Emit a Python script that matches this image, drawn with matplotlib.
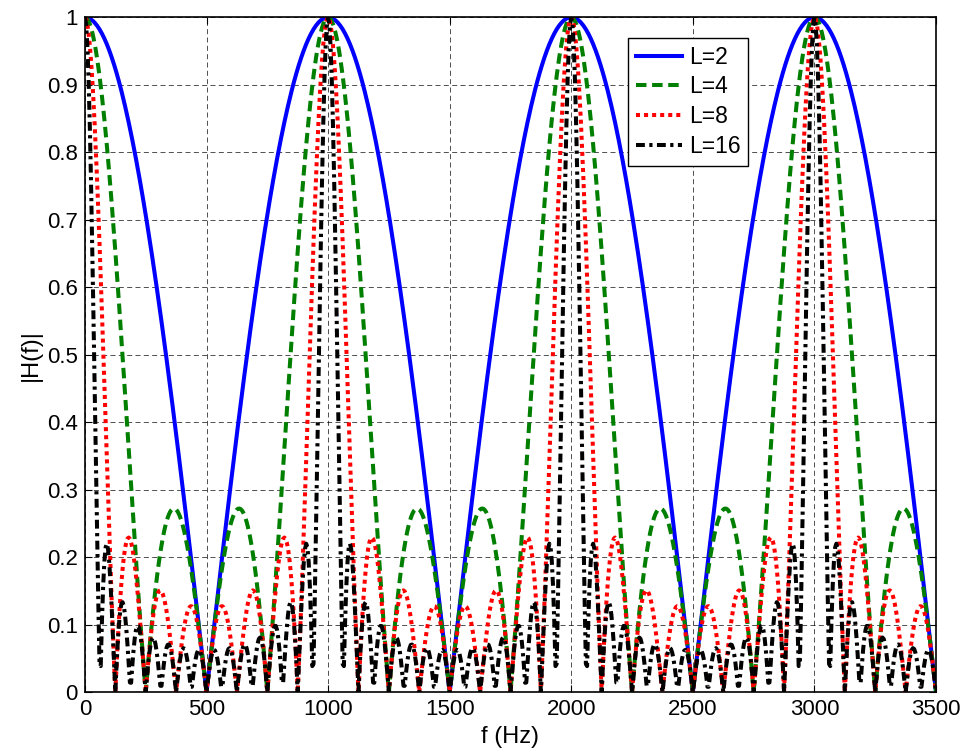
import numpy as np
import matplotlib.pyplot as plt

plt.rcParams['font.family'] = ['Liberation Sans', 'DejaVu Sans']

# moving average filter lengths and sampling rate
filter_lengths = [2, 4, 8, 16]
fs = 1000.0
f_max = 3500
line_colors = ['#0000ff', '#007f00', '#ff0000', '#000000']
line_styles = ['-', (0, (2.6, 1.4)), (0, (1, 1)), (0, (2.2, 1.1, 0.8, 1.1))]

f = np.linspace(0, f_max, 701)

fig = plt.figure(figsize=(9.65, 7.54), dpi=100)
ax = fig.add_axes([0.088, 0.082, 0.882, 0.895])

for L, c, ls in zip(filter_lengths, line_colors, line_styles):
    # frequency response of an L-tap averaging filter
    h = np.ones(L) / L
    n = np.arange(L)
    H = np.abs(np.exp(-2j * np.pi * np.outer(f, n) / fs) @ h)
    ax.plot(f, H, color=c, linestyle=ls, linewidth=2.9, label=f'L={L}')

ax.set_xlim(0, 3500)
ax.set_ylim(0, 1)
ax.set_xticks(np.arange(0, 3501, 500))
ax.set_yticks(np.arange(0, 1.01, 0.1))
ax.set_yticklabels(['0', '0.1', '0.2', '0.3', '0.4', '0.5', '0.6', '0.7', '0.8', '0.9', '1'])
ax.tick_params(direction='in', labelsize=16, length=5, top=True, right=True, pad=5)
ax.grid(True, color='black', linestyle=(0, (6, 4)), linewidth=0.6, alpha=0.8)
for s in ax.spines.values():
    s.set_linewidth(1.2)
ax.set_xlabel('f (Hz)', fontsize=17, labelpad=4)
ax.set_ylabel('|H(f)|', fontsize=17, labelpad=4)

leg = ax.legend(loc='upper left', bbox_to_anchor=(0.638, 0.97), borderaxespad=0,
                fontsize=16.5, fancybox=False, framealpha=1, edgecolor='black',
                handlelength=2.0, borderpad=0.35, labelspacing=0.3, handletextpad=0.3)
leg.get_frame().set_linewidth(1.0)

fig.savefig('out.png', dpi=100)
